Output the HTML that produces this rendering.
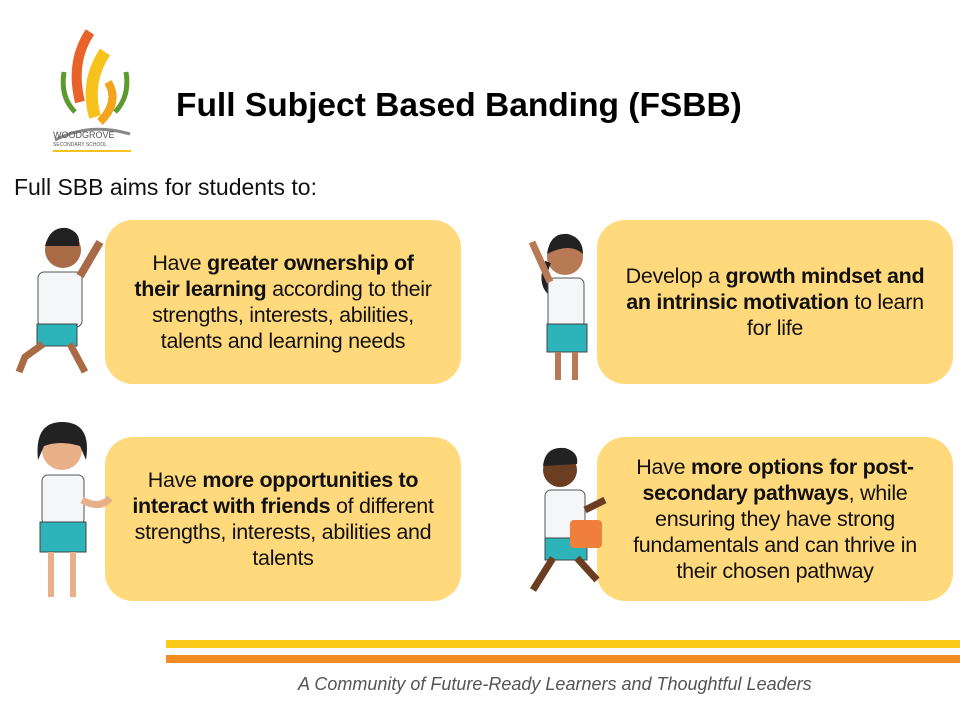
<!DOCTYPE html>
<html><head><meta charset="utf-8"><style>
body{margin:0;width:960px;height:720px;background:#fff;position:relative;overflow:hidden;font-family:"Liberation Sans",sans-serif;}
.box{position:absolute;background:#FFD97C;border-radius:28px;display:flex;align-items:center;justify-content:center;text-align:center;font-size:21.5px;line-height:26px;color:#111;letter-spacing:-0.3px}
.box b{font-weight:bold}
.a{position:absolute}
</style></head><body>
<svg class="a" style="left:50px;top:22px" width="90" height="135">
<path d="M40 10 Q20 40 30 80" stroke="#E8622A" stroke-width="10" fill="none"/>
<path d="M55 30 Q35 60 45 95" stroke="#F7C21B" stroke-width="12" fill="none"/>
<path d="M58 60 Q70 80 50 100" stroke="#F2A51C" stroke-width="8" fill="none"/>
<path d="M14 50 Q10 75 25 90" stroke="#5C9A2E" stroke-width="5" fill="none"/>
<path d="M76 50 Q80 75 65 90" stroke="#5C9A2E" stroke-width="5" fill="none"/>
<path d="M5 118 Q40 100 80 112" stroke="#888" stroke-width="3" fill="none"/>
<text x="3" y="116" font-size="9" fill="#555" font-family="Liberation Sans">WOODGROVE</text>
<text x="3" y="124" font-size="5" fill="#555" font-family="Liberation Sans">SECONDARY SCHOOL</text>
<rect x="3" y="128" width="78" height="2" fill="#F7C21B"/>
</svg>
<div class="a" style="left:176px;top:87px;font-size:33.5px;font-weight:bold;color:#000">Full Subject Based Banding (FSBB)</div>
<div class="a" style="left:14px;top:174px;font-size:23px;color:#111">Full SBB aims for students to:</div>

<div class="box" style="left:105px;top:220px;width:356px;height:164px"><div>Have <b>greater ownership of<br>their learning</b> according to their<br>strengths, interests, abilities,<br>talents and learning needs</div></div>
<div class="box" style="left:597px;top:220px;width:356px;height:164px"><div>Develop a <b>growth mindset and<br>an intrinsic motivation</b> to learn<br>for life</div></div>
<div class="box" style="left:105px;top:437px;width:356px;height:164px"><div>Have <b>more opportunities to<br>interact with friends</b> of different<br>strengths, interests, abilities and<br>talents</div></div>
<div class="box" style="left:597px;top:437px;width:356px;height:164px"><div>Have <b>more options for post-<br>secondary pathways</b>, while<br>ensuring they have strong<br>fundamentals and can thrive in<br>their chosen pathway</div></div>

<svg class="a" style="left:5px;top:212px" width="110" height="172">
<circle cx="58" cy="38" r="18" fill="#A86B45"/><path d="M40 34 Q45 14 62 16 Q76 20 74 34 Z" fill="#222"/>
<rect x="33" y="60" width="44" height="55" rx="6" fill="#F4F6F8" stroke="#555"/>
<rect x="32" y="112" width="40" height="22" fill="#2DB3BA" stroke="#444"/>
<path d="M75 64 L95 30" stroke="#A86B45" stroke-width="8"/>
<path d="M38 132 L20 145 L14 160" stroke="#A86B45" stroke-width="7" fill="none"/>
<path d="M65 132 L80 160" stroke="#A86B45" stroke-width="7"/>
</svg>
<svg class="a" style="left:520px;top:212px" width="85" height="180">
<circle cx="45" cy="45" r="18" fill="#B77A55"/><path d="M27 42 Q30 20 48 22 Q63 26 63 42 Q50 30 27 42Z" fill="#222"/>
<path d="M28 50 Q20 70 30 80" stroke="#222" stroke-width="6" fill="none"/>
<rect x="28" y="66" width="36" height="50" rx="6" fill="#F4F6F8" stroke="#555"/>
<rect x="27" y="112" width="40" height="28" fill="#2DB3BA" stroke="#444"/>
<path d="M30 70 L12 30" stroke="#B77A55" stroke-width="7"/>
<rect x="35" y="140" width="6" height="28" fill="#B77A55"/><rect x="52" y="140" width="6" height="28" fill="#B77A55"/>
</svg>
<svg class="a" style="left:20px;top:410px" width="95" height="200">
<circle cx="42" cy="40" r="20" fill="#E8B089"/><path d="M18 50 Q14 12 42 12 Q72 12 66 50 L60 36 Q40 30 24 36Z" fill="#222"/>
<rect x="22" y="65" width="42" height="50" rx="6" fill="#F4F6F8" stroke="#555"/>
<rect x="20" y="112" width="46" height="30" fill="#2DB3BA" stroke="#444"/>
<path d="M62 90 Q80 100 90 88" stroke="#E8B089" stroke-width="7" fill="none"/>
<rect x="28" y="142" width="6" height="45" fill="#E8B089"/><rect x="50" y="142" width="6" height="45" fill="#E8B089"/>
</svg>
<svg class="a" style="left:515px;top:440px" width="95" height="165">
<circle cx="45" cy="30" r="17" fill="#6B3E22"/><path d="M28 26 Q30 6 50 8 Q64 12 62 24Z" fill="#222"/>
<rect x="30" y="50" width="40" height="52" rx="6" fill="#F4F6F8" stroke="#555"/>
<rect x="30" y="98" width="42" height="22" fill="#2DB3BA" stroke="#444"/>
<rect x="55" y="80" width="32" height="28" rx="4" fill="#EF7F3A"/>
<path d="M70 70 L90 60" stroke="#6B3E22" stroke-width="7"/>
<path d="M38 118 L18 150" stroke="#6B3E22" stroke-width="7"/><path d="M62 118 L82 140" stroke="#6B3E22" stroke-width="7"/>
</svg>

<div class="a" style="left:166px;top:640px;width:794px;height:8px;background:#FBCB19"></div>
<div class="a" style="left:166px;top:655px;width:794px;height:8px;background:#F48A22"></div>
<div class="a" style="left:298px;top:674px;font-size:18px;font-style:italic;color:#555">A Community of Future-Ready Learners and Thoughtful Leaders</div>
</body></html>
